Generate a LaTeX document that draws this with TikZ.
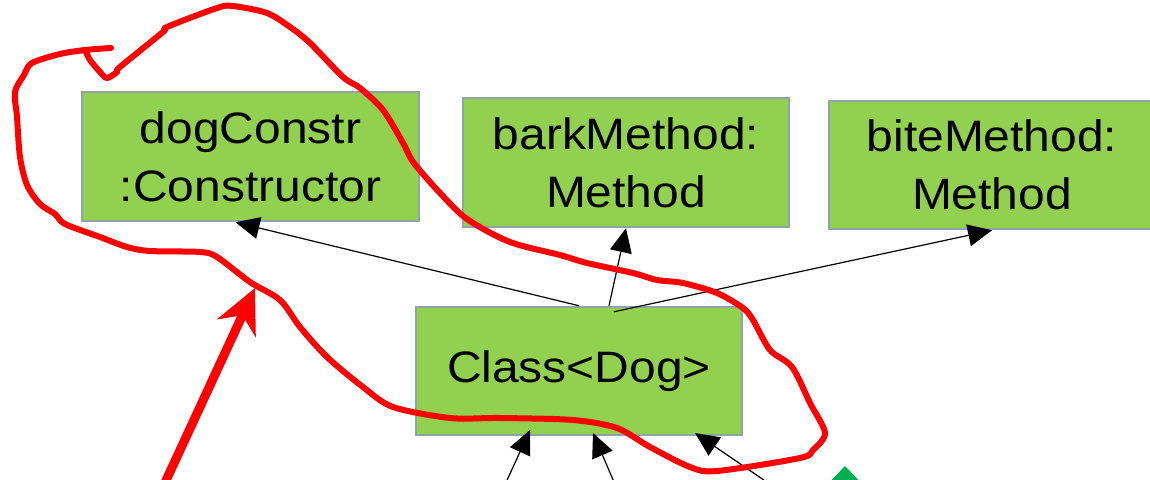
\documentclass[tikz,border=0pt]{standalone}
\usepackage{fontspec}
\setmainfont{Liberation Sans}[FakeStretch=1.09]
\usetikzlibrary{arrows.meta}
\definecolor{boxgreen}{HTML}{92D050}
\definecolor{boxedge}{HTML}{8FA3AA}
\definecolor{penred}{HTML}{FF0000}
\definecolor{markgreen}{HTML}{00B050}

\begin{document}
\begin{tikzpicture}[x=1pt,y=-1pt,
  objbox/.style={draw=boxedge, line width=2.5pt, fill=boxgreen, inner sep=0pt,
    align=center, font=\fontsize{44pt}{58pt}\selectfont},
  link/.style={line width=1.2pt, -{Triangle[length=24pt,width=22pt]}},
  pen/.style={penred, line width=6pt, line cap=round, line join=round}]
\useasboundingbox (0,0) rectangle (1150,479);
\clip (0,0) rectangle (1150,479);

% object boxes
\node[objbox, minimum width=337pt, minimum height=129pt] (dog)  at (250.5,156.5) {dogConstr\\:Constructor};
\node[objbox, minimum width=326pt, minimum height=129pt] (bark) at (626,162.5) {barkMethod:\\Method};
\node[objbox, minimum width=326pt, minimum height=128pt] (bite) at (992,165) {biteMethod:\\Method};
\node[objbox, minimum width=326pt, minimum height=128pt] (cls)  at (579,371) {Class<Dog>};

% links from the class object
\draw[link] (cls.north) -- ([xshift=-15pt]dog.south);
\draw[link] ([xshift=30pt]cls.north) -- (bark.south);
\draw[link] ([xshift=35pt,yshift=-6pt]cls.north) -- (bite.south);

% incoming links from below
\coordinate (f1) at (503,489);
\coordinate (f2) at (617,489);
\coordinate (f3) at (777,489);
\coordinate (t1) at (530,430);
\coordinate (t2) at (593,433);
\coordinate (t3) at (695,433);
\draw[link] (f1) -- (t1);
\draw[link] (f2) -- (t2);
\draw[link] (f3) -- (t3);

% green marker at the bottom edge
\fill[markgreen] (845,466) -- (822,490) -- (868,490) -- cycle;

% hand-drawn loop
\draw[pen] plot[smooth, tension=0.5] coordinates {
  (111,48) (85,50) (60,54) (32,63) (24,75) (15,92) (17,117) (20,157) (27,185)
  (40,204) (55,214) (65,224) (100,237) (127,247) (150,251) (200,252) (217,257)
  (250,282) (280,300) (300,327) (327,357) (363,387) (393,407) (450,418) (500,418)
  (573,420) (617,428) (650,447) (690,467) (717,471) (800,458) (813,450) (825,433)
  (810,403) (792,367) (770,350) (753,320) (743,308) (717,293) (683,283) (657,280)
  (633,273) (587,263) (560,255) (510,242) (467,219) (440,193) (417,167) (410,157)
  (403,143) (383,110) (360,88) (343,77) (310,43) (290,27) (267,13) (233,6) (217,8)
  (167,27) (163,32) (120,67) (117,72) (107,78) (100,72) (90,60) (86,52)};
\draw[penred, line width=3.5pt, line cap=round] (304,334) -- (329,357);

% hand-drawn arrow
\coordinate (rs) at (163,487);
\coordinate (rt) at (255,288);
\draw[penred, line width=9pt, -{Stealth[length=44pt,width=42pt,inset=14pt]}] (rs) -- (rt);
\end{tikzpicture}
\end{document}
